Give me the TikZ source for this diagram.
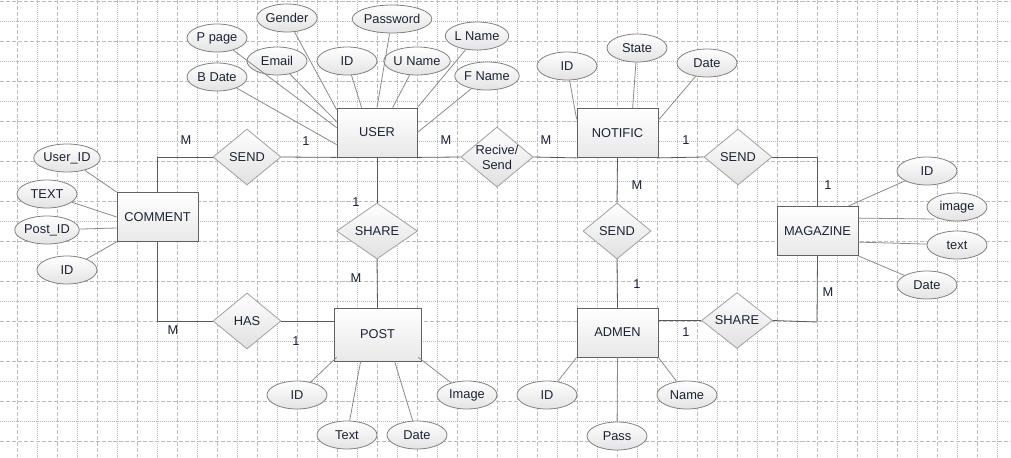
\documentclass[tikz,border=0pt]{standalone}
\usepackage{fontspec}
\setmainfont{Liberation Sans}
\usetikzlibrary{shapes.geometric,calc}
\definecolor{txt}{HTML}{1A2335}
\definecolor{gridc}{HTML}{BDBDBD}
\definecolor{edgec}{HTML}{5A5A5A}
\definecolor{attl}{HTML}{8A8A8A}
\newcommand\fsz{\fontsize{7.3}{8.6}\selectfont}
\begin{document}
\begin{tikzpicture}[x=0.02cm,y=-0.02cm,
  every node/.style={font=\fsz,text=txt},
  entity/.style={draw=black!62,line width=0.45pt,top color=white,bottom color=black!9,
    minimum width=1.62cm,minimum height=0.98cm,inner sep=0pt},
  rel/.style={diamond,draw=black!35,line width=0.5pt,top color=white,bottom color=black!12,
    aspect=1.2,inner sep=0pt,minimum width=1.36cm,minimum height=1.12cm,align=center},
  attr/.style={ellipse,draw=black!50,line width=0.45pt,top color=white,bottom color=black!11,
    minimum width=1.2cm,minimum height=0.56cm,inner sep=0pt},
  card/.style={inner sep=0pt},
  conn/.style={draw=edgec,line width=0.45pt},
  aline/.style={draw=attl,line width=0.45pt},
  gdash/.style={draw=gridc,line width=0.5pt,dash pattern=on 2.3pt off 1.1pt},
  gdot/.style={draw=gridc,line width=0.5pt,dash pattern=on 0.57pt off 0.57pt}]
\useasboundingbox (0,0) rectangle (1011,457);
\fill[white] (0,0) rectangle (1011,457);
% grid
\foreach \gx in {17.5,57.5,...,1000} {\draw[gdash] (\gx,0) -- (\gx,457);}
\foreach \gx in {37.5,77.5,...,1010} {\draw[gdot] (\gx,0) -- (\gx,457);}
\foreach \gy in {1,41,...,450} {\draw[gdash] (0,\gy) -- (1011,\gy);}
\foreach \gy in {21,61,...,450} {\draw[gdot] (0,\gy) -- (1011,\gy);}

% entities
\node[entity,minimum width=1.6cm] (user) at (377,132.5) {USER};
\node[entity] (comment) at (157.5,217) {COMMENT};
\node[entity] (notif) at (617.5,133) {NOTIFIC};
\node[entity] (mag) at (817.5,231) {MAGAZINE};
\node[entity,minimum width=1.74cm,minimum height=1.06cm] (post) at (377.5,334.5) {POST};
\node[entity] (admen) at (617.5,332.5) {ADMEN};

% relationships
\node[rel] (send1) at (247,157) {SEND};
\node[rel] (rs) at (497,157) {Recive/\\Send};
\node[rel] (send2) at (738,157) {SEND};
\node[rel,minimum width=1.62cm] (share1) at (377,231) {SHARE};
\node[rel] (send3) at (617,231) {SEND};
\node[rel] (has) at (247,321) {HAS};
\node[rel,minimum width=1.42cm] (share2) at (737,320.5) {SHARE};

% relationship connectors
\coordinate (mc) at (817,322);
\draw[conn] (comment.north) |- (send1.west);
\draw[conn] (send1.east) -- (user.south west);
\draw[conn] (user.south east) -- (rs.west);
\draw[conn] (rs.east) -- (notif.south west);
\draw[conn] (notif.south east) -- (send2.west);
\draw[conn] (send2.east) -| (mag.north);
\draw[conn] (user.south) -- (share1.north);
\draw[conn] (share1.south) -- (post.north);
\draw[conn] (notif.south) -- (send3.north);
\draw[conn] (send3.south) -- (admen.north);
\draw[conn] (comment.south) |- (has.west);
\draw[conn] (has.east) -- (has.east -| post.west);
\draw[conn] (share2.west) -- (share2.west -| admen.east);
\draw[conn] (share2.east) -- (mc) -- (mag.south);

% USER attributes
\node[attr] (ppage) at (217,38) {P page};
\node[attr] (gender) at (287,18) {Gender};
\node[attr,minimum width=1.3cm] (pass) at (392,19) {Password};
\node[attr] (email) at (277,61) {Email};
\node[attr] (uid) at (347,61) {ID};
\node[attr] (uname) at (417,61) {U Name};
\node[attr] (lname) at (477,36) {L Name};
\node[attr] (bdate) at (217,77) {B Date};
\node[attr] (fname) at (487,76) {F Name};
\draw[aline] (gender) -- ($(user.north west)+(0,2)$);
\draw[aline] (email) -- ($(user.north west)+(0,14)$);
\draw[aline] (ppage) -- ($(user.north west)+(0,20)$);
\draw[aline] (bdate) -- ($(user.north west)+(0,37)$);
\draw[aline] (uid) -- ($(user.north west)+(25,0)$);
\draw[aline] (pass) -- (user.north);
\draw[aline] (uname) -- ($(user.north west)+(56,0)$);
\draw[aline] (lname) -- (user.north east);
\draw[aline] (fname) -- (user.east);

% COMMENT attributes
\node[attr] (cuid) at (67,158) {User\_ID};
\node[attr] (ctext) at (47,194) {TEXT};
\node[attr] (cpid) at (47,230) {Post\_ID};
\node[attr] (cid) at (67,270) {ID};
\draw[aline] (cuid) -- (comment.north west);
\draw[aline] (ctext) -- (comment.west);
\draw[aline] (cpid) -- ($(comment.west)+(0,11)$);
\draw[aline] (cid) -- (comment.south west);

% NOTIFIC attributes
\node[attr] (nid) at (567,66) {ID};
\node[attr] (nstate) at (637,48) {State};
\node[attr] (ndate) at (707,63) {Date};
\draw[aline] (nid) -- ($(notif.north west)+(0,11)$);
\draw[aline] (nstate) -- ($(notif.north west)+(56,0)$);
\draw[aline] (ndate) -- ($(notif.north east)+(0,12)$);

% MAGAZINE attributes
\node[attr] (mid) at (927,171) {ID};
\node[attr] (mimage) at (957,207) {image};
\node[attr] (mtext) at (957,245) {text};
\node[attr] (mdate) at (927,285) {Date};
\draw[aline] (mid) -- ($(mag.north east)+(-10,0)$);
\draw[aline] ($(mimage.west)+(8,12)$) -- ($(mag.north east)+(0,12)$);
\draw[aline] (mtext) -- ($(mag.north east)+(0,36)$);
\draw[aline] (mdate) -- (mag.south east);

% POST attributes
\node[attr] (pid) at (297,395) {ID};
\node[attr] (ptext) at (347,435) {Text};
\node[attr] (pdate) at (417,435) {Date};
\node[attr] (pimage) at (467,395) {Image};
\draw[aline] (pid) -- ($(post.south west)+(3,-4)$);
\draw[aline] (ptext) -- ($(post.south west)+(27,0)$);
\draw[aline] (pdate) -- ($(post.south west)+(61,0)$);
\draw[aline] (pimage) -- ($(post.south east)+(-3,-4)$);

% ADMEN attributes
\node[attr] (aid) at (547,395) {ID};
\node[attr] (apass) at (617,436) {Pass};
\node[attr] (aname) at (687,395) {Name};
\draw[aline] (aid) -- (admen.south west);
\draw[aline] (apass) -- (admen.south);
\draw[aline] (aname) -- (admen.south east);

% cardinalities
\node[card] (k1) at (186,140) {M};
\node[card] (k2) at (306,141) {1};
\node[card] (k3) at (446,140) {M};
\node[card] (k4) at (546,140) {M};
\node[card] (k5) at (686,140) {1};
\node[card] (k6) at (828,185) {1};
\node[card] (k7) at (828,292) {M};
\node[card] (k8) at (356,202) {1};
\node[card] (k9) at (356,278) {M};
\node[card] (k10) at (637,185) {M};
\node[card] (k11) at (637,284) {1};
\node[card] (k12) at (173,330) {M};
\node[card] (k13) at (296,341) {1};
\node[card] (k14) at (686,332) {1};
\end{tikzpicture}
\end{document}
